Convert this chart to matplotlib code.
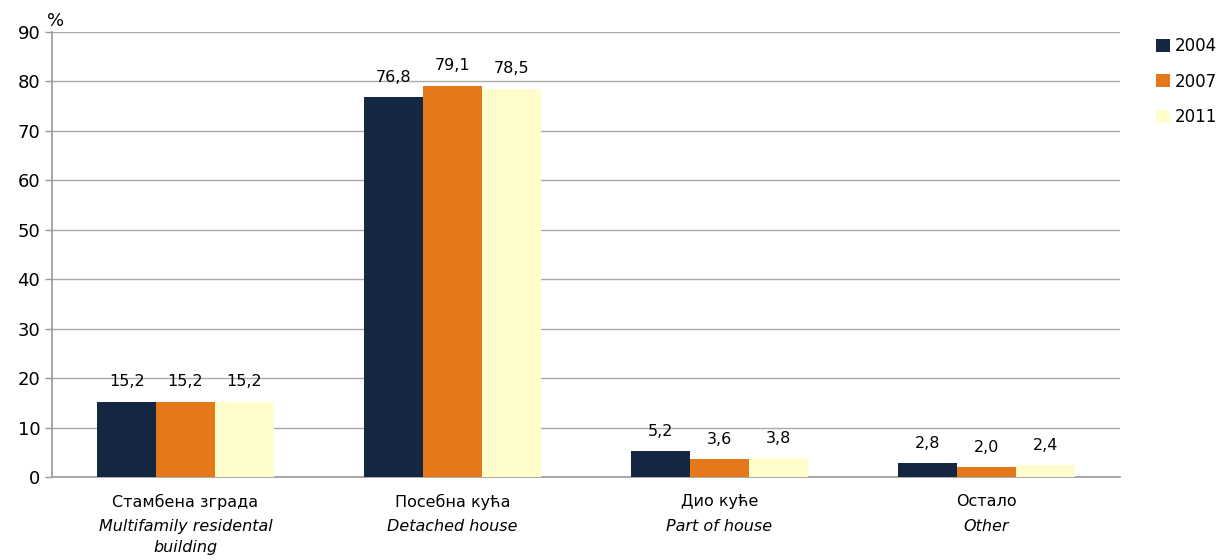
import matplotlib
matplotlib.use("Agg")
import matplotlib.pyplot as plt
import numpy as np

categories_sr = ["Стамбена зграда", "Посебна кућа", "Дио куће", "Остало"]
categories_en = ["Multifamily residental\nbuilding", "Detached house", "Part of house", "Other"]
years = ["2004", "2007", "2011"]
v2004 = [15.2, 76.8, 5.2, 2.8]
v2007 = [15.2, 79.1, 3.6, 2.0]
v2011 = [15.2, 78.5, 3.8, 2.4]
series = [v2004, v2007, v2011]
colors = ["#152642", "#E5781A", "#FFFDCC"]

plt.rcParams['font.family'] = ['DejaVu Sans']
fig = plt.figure(figsize=(12.21, 5.6), dpi=100)
ax = fig.add_axes([0.0426, 0.148, 0.8747, 0.795])

x = np.arange(len(categories_sr))
w = 0.22
for i, (vals, c, yr) in enumerate(zip(series, colors, years)):
    pos = x + (i - 1) * w
    ax.bar(pos, vals, w, color=c, label=yr, zorder=3)
    for p, v in zip(pos, vals):
        ax.annotate(f"{v:.1f}".replace(".", ","), (p, v), xytext=(0, 9),
                    textcoords="offset points", ha="center", va="bottom", fontsize=11.5)

ax.set_xlim(-0.5, 3.5)
ax.set_ylim(0, 90)
ax.set_yticks(range(0, 91, 10))
ax.tick_params(axis='y', labelsize=13, length=5, color="#999999", width=1)
ax.tick_params(axis='x', length=0, labelsize=11.5, pad=12)
ax.set_xticks(x)
ax.set_xticklabels(categories_sr)
for xi, t in zip(x, categories_en):
    ax.text(xi, -0.095, t, transform=ax.get_xaxis_transform(), ha="center", va="top",
            fontsize=11.5, style="italic", linespacing=1.45)
ax.grid(axis='y', color="#AAAAAA", linewidth=1, zorder=0)
for s in ["top", "right"]:
    ax.spines[s].set_visible(False)
ax.spines["left"].set_color("#999999")
ax.spines["bottom"].set_color("#999999")
ax.spines["left"].set_linewidth(1.2)
ax.spines["bottom"].set_linewidth(1.2)
ax.text(-0.005, 1.005, "%", transform=ax.transAxes, ha="left", va="bottom", fontsize=13)

leg = ax.legend(loc="upper left", bbox_to_anchor=(1.02, 1.022), frameon=False, fontsize=12,
                handlelength=0.8, handleheight=0.8, handletextpad=0.3, labelspacing=1.05)

fig.savefig("out.png", dpi=100)
